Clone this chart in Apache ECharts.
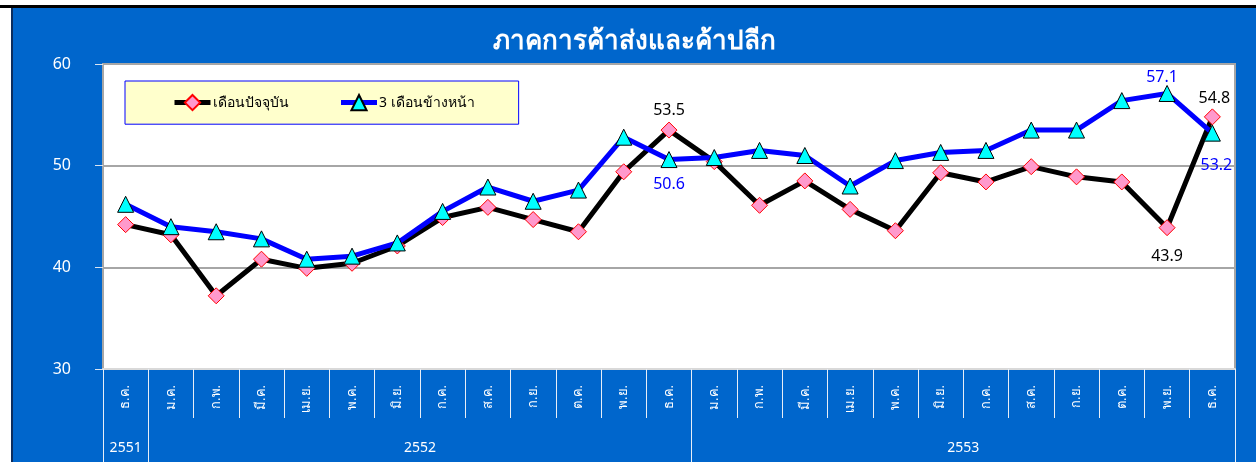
<!DOCTYPE html>
<html lang="th">

<head>
    <meta charset="UTF-8">
    <script src="https://cdn.jsdelivr.net/npm/echarts@6/dist/echarts.min.js"></script>
    <title>ภาคการค้าส่งและค้าปลีก</title>
    <style>
        html, body { margin: 0; padding: 0; background: #fff; overflow: hidden; }
        #topLine { position: absolute; left: 0; top: 5px; width: 1256px; height: 3px; background: #000; }
        #chart { position: absolute; left: 11px; top: 8px; width: 1245px; height: 454px;
                 border-left: 2px solid #0b2d5e; box-sizing: border-box; }
    </style>
</head>

<body>
    <div id="topLine"></div>
    <div id="chart"></div>
    <script>
        var months = ['ธ.ค.', 'ม.ค.', 'ก.พ.', 'มี.ค.', 'เม.ย.', 'พ.ค.', 'มิ.ย.', 'ก.ค.', 'ส.ค.', 'ก.ย.', 'ต.ค.', 'พ.ย.', 'ธ.ค.',
            'ม.ค.', 'ก.พ.', 'มี.ค.', 'เม.ย.', 'พ.ค.', 'มิ.ย.', 'ก.ค.', 'ส.ค.', 'ก.ย.', 'ต.ค.', 'พ.ย.', 'ธ.ค.'];
        var years = ['2551', '2552', '2553'];
        var yearSpans = [1, 12, 12];
        var current = [44.2, 43.2, 37.2, 40.8, 39.9, 40.4, 42.1, 44.9, 45.9, 44.7, 43.5, 49.4, 53.5,
            50.4, 46.1, 48.5, 45.7, 43.6, 49.3, 48.4, 49.9, 48.9, 48.4, 43.9, 54.8];
        var next3 = [46.2, 44.0, 43.5, 42.8, 40.8, 41.1, 42.4, 45.5, 47.9, 46.5, 47.6, 52.8, 50.6,
            50.8, 51.5, 51.0, 48.0, 50.5, 51.3, 51.5, 53.5, 53.5, 56.4, 57.1, 53.2];
        var yTicks = [30, 40, 50, 60];
        var seriesNames = ['เดือนปัจจุบัน', '3 เดือนข้างหน้า'];

        var font = '"Noto Sans", Tahoma, sans-serif';

        // year row: boundaries and centres in category units
        var yearEdges = [0];
        var yearMids = [];
        yearSpans.forEach(function (n, i) {
            yearMids.push(yearEdges[i] + n / 2);
            yearEdges.push(yearEdges[i] + n);
        });

        // which points carry a value label: [position, distance, x offset]
        var curLabels = { 12: ['top', 3, 0], 23: ['bottom', 12, 0], 24: ['top', 2, 2] };
        var nextLabels = { 12: ['bottom', 8, 0], 23: ['top', 0, -5], 24: ['bottom', 16, 4] };

        function withLabels(values, marks, color) {
            return values.map(function (v, i) {
                var m = marks[i];
                if (!m) return v;
                return {
                    value: v,
                    label: {
                        show: true,
                        position: m[0],
                        distance: m[1],
                        offset: [m[2], 0],
                        color: color,
                        fontSize: 16,
                        fontFamily: font,
                        formatter: function (p) { return p.value.toFixed(1); }
                    }
                };
            });
        }

        var chart = echarts.init(document.getElementById('chart'));
        chart.setOption({
            backgroundColor: '#0066cc',
            animation: false,
            title: {
                text: 'ภาคการค้าส่งและค้าปลีก',
                left: 'center',
                top: 16,
                textStyle: { color: '#fff', fontSize: 26, fontWeight: 'bold', fontFamily: font }
            },
            legend: {
                left: 112,
                top: 73,
                padding: [13, 44, 13, 47],
                itemGap: 50,
                itemWidth: 36,
                itemHeight: 19,
                backgroundColor: '#ffffcc',
                borderColor: '#0000ff',
                borderWidth: 1,
                lineStyle: { width: 5 },
                textStyle: { color: '#000', fontSize: 14, fontFamily: font, padding: [0, 0, 0, -3] },
                data: seriesNames
            },
            grid: {
                left: 90,
                right: 21,
                top: 56,
                bottom: 93,
                show: true,
                backgroundColor: '#fff',
                borderColor: '#a6a6a6',
                borderWidth: 2
            },
            xAxis: [
                {
                    type: 'category',
                    data: months,
                    boundaryGap: true,
                    axisLine: { show: true, lineStyle: { color: '#d9d9d9', width: 2 } },
                    axisTick: { show: true, interval: 0, length: 49, lineStyle: { color: '#e8eef7', width: 1 } },
                    axisLabel: { interval: 0, rotate: 90, margin: 16, color: '#fff', fontSize: 13, fontFamily: font }
                },
                {
                    type: 'value',
                    min: 0,
                    max: months.length,
                    position: 'bottom',
                    axisLine: { show: false },
                    splitLine: { show: false },
                    axisTick: { show: true, customValues: yearEdges, length: 93, lineStyle: { color: '#e8eef7', width: 1 } },
                    axisLabel: {
                        customValues: yearMids,
                        margin: 72,
                        color: '#fff',
                        fontSize: 14,
                        fontFamily: font,
                        formatter: function (v) { return years[yearMids.indexOf(v)]; }
                    }
                }
            ],
            yAxis: {
                type: 'value',
                min: yTicks[0],
                max: yTicks[yTicks.length - 1],
                interval: 10,
                axisLine: { show: false },
                axisTick: { show: true, length: 8, lineStyle: { color: '#d9e4f2' } },
                axisLabel: { color: '#fff', fontSize: 16, margin: 32, fontFamily: font },
                splitLine: { lineStyle: { color: '#a6a6a6', width: 2 } }
            },
            series: [
                {
                    name: seriesNames[0],
                    type: 'line',
                    data: withLabels(current, curLabels, '#000'),
                    symbol: 'diamond',
                    symbolSize: 16,
                    lineStyle: { color: '#000', width: 5 },
                    itemStyle: { color: '#ff99cc', borderColor: '#ff0000', borderWidth: 1 },
                    z: 2
                },
                {
                    name: seriesNames[1],
                    type: 'line',
                    data: withLabels(next3, nextLabels, '#0000ff'),
                    symbol: 'triangle',
                    symbolSize: 16,
                    lineStyle: { color: '#0000ff', width: 5 },
                    itemStyle: { color: '#00ffff', borderColor: '#000', borderWidth: 1 },
                    z: 3
                }
            ]
        });
    </script>
</body>

</html>
